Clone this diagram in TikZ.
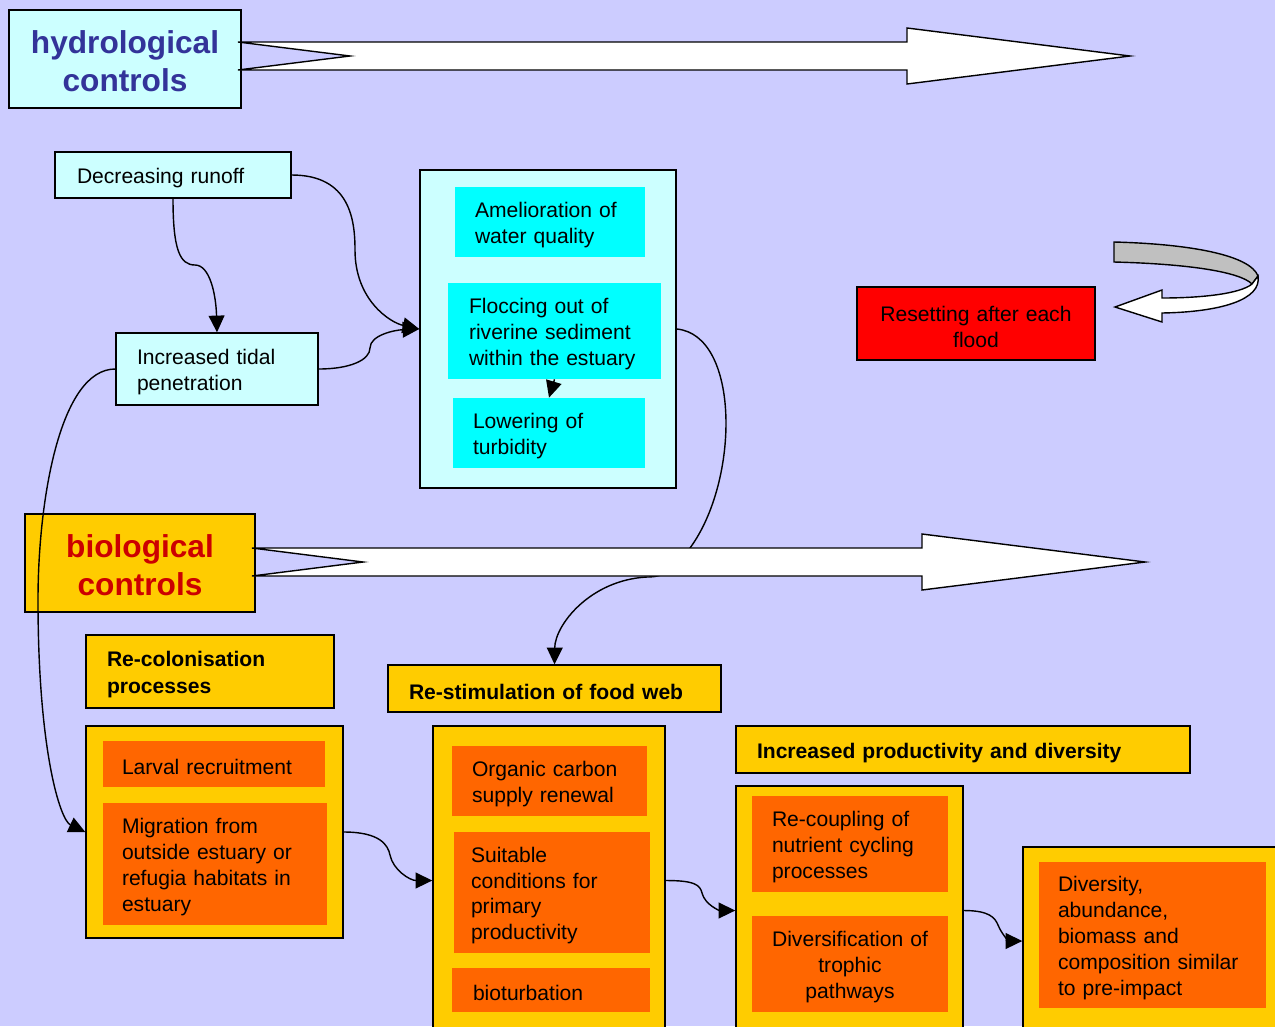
\documentclass[tikz,border=0pt]{standalone}
\usepackage{fontspec}
\setmainfont{Liberation Sans}
\usepackage{tikz}
\usetikzlibrary{
  arrows.meta,              % Triangle 箭头样式
  calc,                     % 坐标计算
  positioning               % 节点相对定位
}

% 颜色定义
\definecolor{bgblue}{HTML}{CCCCFF}
\definecolor{palecyan}{HTML}{CCFFFF}
\definecolor{brightcyan}{HTML}{00FFFF}
\definecolor{gold}{HTML}{FFCC00}
\definecolor{deeporange}{HTML}{FF6600}
\definecolor{titleblue}{HTML}{333399}
\definecolor{titlered}{HTML}{CC0000}
\definecolor{bandgray}{HTML}{C0C0C0}

\begin{document}
\begin{tikzpicture}[>={Triangle[length=9.5pt,width=9pt]},
  ctrlbox/.style={draw, line width=0.8pt, align=center, inner sep=0pt, text height=15.5pt,
    font=\fontsize{18}{21.5}\selectfont\bfseries},
  plainbox/.style={draw, line width=0.8pt, fill=palecyan, align=left, inner ysep=0pt,
    text height=12.2pt, font=\fontsize{12}{14.7}\selectfont},
  framebox/.style={draw, line width=0.8pt, inner sep=0pt},
  itembox/.style={align=left, inner ysep=0pt, text height=12.2pt,
    font=\fontsize{12}{14.7}\selectfont},
  headbox/.style={draw, line width=0.8pt, fill=gold, align=left, inner ysep=0pt,
    text height=12.4pt, font=\fontsize{12}{15.3}\selectfont\bfseries},
  bigarrow/.style={draw, line width=0.8pt, fill=white, line join=miter},
  link/.style={->, line width=0.8pt}]

  % =========== 背景与画布范围 ===========
  \useasboundingbox (0,0) rectangle (25.5,-20.52);
  \fill[bgblue] (0,0) rectangle (25.5,-20.52);

  % =========== 水文控制部分 (上半) ===========
  \node[ctrlbox, fill=palecyan, text=titleblue, text width=4.64cm, minimum height=1.96cm]
    (hydro) at (2.5,-1.18) {hydrological\\controls};

  \node[plainbox, text width=3.84cm, inner xsep=0.44cm, minimum height=0.92cm]
    (runoff) at (3.46,-3.5) {Decreasing runoff};
  \node[plainbox, text width=3.2cm, inner xsep=0.42cm, minimum height=1.44cm]
    (tidal) at (4.34,-7.38) {Increased tidal\\penetration};

  % 河口效应外框及其内部三项
  \node[framebox, fill=palecyan, minimum width=5.12cm, minimum height=6.36cm]
    (estuary) at (10.96,-6.58) {};
  \node[itembox, fill=brightcyan, text width=3.0cm, inner xsep=0.4cm, minimum height=1.4cm]
    (amelior) at (11.0,-4.44) {Amelioration of\\water quality};
  \node[itembox, fill=brightcyan, text width=3.42cm, inner xsep=0.42cm, minimum height=1.92cm]
    (floccing) at (11.09,-6.62) {Floccing out of\\riverine sediment\\within the estuary};
  \node[itembox, fill=brightcyan, text width=3.04cm, inner xsep=0.4cm, minimum height=1.4cm]
    (lowering) at (10.98,-8.66) {Lowering of\\turbidity};

  % 洪水复位
  \node[draw, line width=0.8pt, fill=red, align=center, text width=4.4cm, inner xsep=0.18cm,
    inner ysep=0pt, text height=12.2pt, minimum height=1.46cm, font=\fontsize{12}{14.7}\selectfont]
    (reset) at (19.52,-6.47) {Resetting after each\\flood};

  % 回转箭头：灰色带 + 白色箭头
  \draw[line width=0.8pt, fill=bandgray] (22.28,-4.84) .. controls (23.8,-4.88) and (25.0,-5.1) .. (25.16,-5.52)
    -- (25.04,-5.68) .. controls (24.8,-5.44) and (23.8,-5.28) .. (22.28,-5.24) -- cycle;
  \draw[line width=0.8pt, fill=white, line join=miter] (25.04,-5.68) .. controls (24.8,-5.88) and (24.0,-5.96) .. (23.24,-5.96)
    -- (23.24,-5.8) -- (22.3,-6.14) -- (23.24,-6.44) -- (23.24,-6.26)
    .. controls (24.4,-6.24) and (25.24,-6.0) .. (25.16,-5.52) -- cycle;

  % =========== 生物控制部分 (下半) ===========
  \node[ctrlbox, fill=gold, text=titlered, text width=4.6cm, minimum height=1.96cm]
    (bio) at (2.8,-11.26) {biological\\controls};

  % 第一列：重新定殖
  \node[headbox, text width=4.12cm, inner xsep=0.42cm, minimum height=1.46cm]
    (recolon) at (4.2,-13.43) {Re-colonisation\\processes};
  \node[framebox, fill=gold, minimum width=5.14cm, minimum height=4.24cm]
    (colbox) at (4.29,-16.64) {};
  \node[itembox, fill=deeporange, text width=3.68cm, inner xsep=0.38cm, minimum height=0.92cm]
    (larval) at (4.28,-15.28) {Larval recruitment};
  \node[itembox, fill=deeporange, text width=3.72cm, inner xsep=0.38cm, minimum height=2.44cm]
    (migration) at (4.3,-17.28) {Migration from\\outside estuary or\\refugia habitats in\\estuary};

  % 第二列：食物网
  \node[headbox, text width=5.82cm, inner xsep=0.42cm, minimum height=0.94cm]
    (restim) at (11.09,-13.77) {Re-stimulation of food web};
  \node[framebox, fill=gold, minimum width=4.64cm, minimum height=6.18cm]
    (webbox) at (10.98,-17.61) {};
  \node[itembox, fill=deeporange, text width=3.1cm, inner xsep=0.4cm, minimum height=1.4cm]
    (carbon) at (10.99,-15.62) {Organic carbon\\supply renewal};
  \node[itembox, fill=deeporange, text width=3.24cm, inner xsep=0.34cm, minimum height=2.42cm]
    (suitable) at (11.04,-17.85) {Suitable\\conditions for\\primary\\productivity};
  \node[itembox, fill=deeporange, text width=3.12cm, inner xsep=0.42cm, minimum height=0.88cm]
    (bioturb) at (11.02,-19.8) {bioturbation};

  % 第三列：生产力与多样性
  \node[headbox, text width=8.24cm, inner xsep=0.42cm, minimum height=0.94cm]
    (prodhead) at (19.26,-14.99) {Increased productivity and diversity};
  \node[framebox, fill=gold, minimum width=4.54cm, minimum height=4.98cm]
    (prodbox) at (16.99,-18.21) {};
  \node[itembox, fill=deeporange, text width=3.12cm, inner xsep=0.4cm, minimum height=1.92cm]
    (recoupling) at (17.0,-16.88) {Re-coupling of\\nutrient cycling\\processes};
  \node[itembox, fill=deeporange, align=center, text width=3.5cm, inner xsep=0.21cm, minimum height=1.92cm]
    (diversif) at (17.0,-19.28) {Diversification of\\trophic\\pathways};

  % 第四列：恢复状态
  \node[framebox, fill=gold, minimum width=5.34cm, minimum height=3.76cm]
    (endbox) at (23.13,-18.82) {};
  \node[itembox, fill=deeporange, text width=3.78cm, inner xsep=0.38cm, minimum height=2.92cm]
    (diversity) at (23.05,-18.7) {Diversity,\\abundance,\\biomass and\\composition similar\\to pre-impact};

  % =========== 连接线 ===========
  \draw[link] (runoff.south) .. controls (3.46,-5.0) and (3.6,-5.3) .. (3.9,-5.3)
    .. controls (4.2,-5.3) and (4.32,-5.9) .. (tidal.north);
  \draw[link] (runoff.east) .. controls (7.0,-3.5) and (7.1,-4.4) .. (7.1,-5.0)
    .. controls (7.1,-6.0) and (7.8,-6.45) .. (estuary.west);
  \draw[link] (tidal.east) .. controls (7.0,-7.38) and (7.4,-7.2) .. (7.4,-6.96)
    .. controls (7.4,-6.7) and (7.9,-6.6) .. (estuary.west);
  \draw[link] (tidal.west) .. controls (1.2,-7.38) and (0.76,-10.0) .. (0.76,-12.0)
    .. controls (0.76,-15.0) and (1.2,-16.4) .. (colbox.west);
  \draw[link] (floccing.south) -- (lowering.north);
  \draw[link] (estuary.east) .. controls (14.8,-6.7) and (14.8,-9.6) .. (13.8,-10.96)
    .. controls (13.5,-11.4) and (13.3,-11.54) .. (12.94,-11.54)
    .. controls (11.8,-11.6) and (11.1,-12.5) .. (restim.north);
  \draw[link] (colbox.east) .. controls (7.6,-16.64) and (7.76,-16.9) .. (7.8,-17.1)
    .. controls (7.86,-17.4) and (8.2,-17.61) .. (webbox.west);
  \draw[link] (webbox.east) .. controls (13.9,-17.61) and (14.0,-17.7) .. (14.04,-17.86)
    .. controls (14.1,-18.1) and (14.4,-18.21) .. (prodbox.west);
  \draw[link] (prodbox.east) .. controls (19.8,-18.21) and (19.9,-18.36) .. (19.96,-18.5)
    .. controls (20.05,-18.72) and (20.2,-18.82) .. (endbox.west);

  % =========== 两条大箭头 (压在连线上) ===========
  \draw[bigarrow] (4.76,-0.84) -- (18.14,-0.84) -- (18.14,-0.56) -- (22.6,-1.12)
    -- (18.14,-1.68) -- (18.14,-1.4) -- (4.76,-1.4) -- (7.0,-1.12) -- cycle;
  \draw[bigarrow] (5.04,-10.96) -- (18.44,-10.96) -- (18.44,-10.68) -- (22.9,-11.24)
    -- (18.44,-11.8) -- (18.44,-11.52) -- (5.04,-11.52) -- (7.26,-11.24) -- cycle;

\end{tikzpicture}
\end{document}
